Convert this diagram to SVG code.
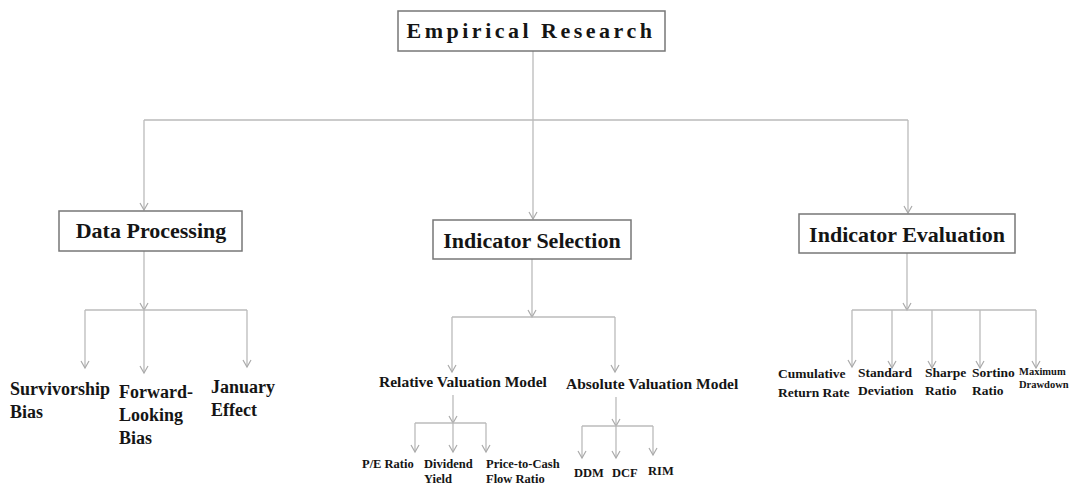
<svg xmlns="http://www.w3.org/2000/svg" width="1073" height="485" viewBox="0 0 1073 485">
<defs>
<marker id="ah" markerUnits="userSpaceOnUse" markerWidth="12" markerHeight="12" viewBox="-8 -6 12 12" refX="0" refY="0" orient="auto" overflow="visible">
<path d="M-7,-4 L0,0 L-7,4" fill="none" stroke="#aaa" stroke-width="1.2"/>
</marker>
</defs>
<style>
.box{fill:#fff;stroke:#777;stroke-width:1.5}
.c{fill:none;stroke:#bbb;stroke-width:1.3}
.a{marker-end:url(#ah)}
text{font-family:"Liberation Serif","Times New Roman",serif;font-weight:bold;fill:#151515}
.h{font-size:22px}
.l{font-size:18px}
.m{font-size:15.5px}
.s{font-size:12.5px}
.e{font-size:13.5px}
.t{font-size:10.5px}
</style>
<g id="connectors">
<path class="c" d="M533,51 V120 M144,120 H908"/>
<path class="c a" d="M144,120 V210"/>
<path class="c a" d="M533,120 V219"/>
<path class="c a" d="M908,120 V213"/>
<path class="c a" d="M144,251 V310"/>
<path class="c" d="M85,310 H247"/>
<path class="c a" d="M85,310 V368"/>
<path class="c a" d="M144,310 V373"/>
<path class="c a" d="M247,310 V367"/>
<path class="c a" d="M532,259 V317"/>
<path class="c" d="M452,317 H615"/>
<path class="c a" d="M452,317 V372"/>
<path class="c a" d="M615,317 V372"/>
<path class="c a" d="M453,395 V423"/>
<path class="c" d="M415,423 H486"/>
<path class="c a" d="M415,423 V452"/>
<path class="c a" d="M453,423 V452"/>
<path class="c a" d="M486,423 V452"/>
<path class="c a" d="M616,397 V426"/>
<path class="c" d="M582,426 H653"/>
<path class="c a" d="M582,426 V458"/>
<path class="c a" d="M616,426 V458"/>
<path class="c a" d="M653,426 V455"/>
<path class="c a" d="M907,253 V310"/>
<path class="c" d="M852,310 H1036"/>
<path class="c a" d="M852,310 V367"/>
<path class="c a" d="M892,310 V368"/>
<path class="c a" d="M932,310 V368"/>
<path class="c a" d="M980,310 V368"/>
<path class="c a" d="M1036,310 V368"/>
</g>
<g id="empirical-research">
<rect class="box" x="398" y="11" width="267" height="40"/>
<text class="h" x="531" y="38" text-anchor="middle" letter-spacing="3.5">Empirical Research</text>
</g>
<g id="data-processing">
<rect class="box" x="59" y="211" width="183" height="40"/>
<text class="h" x="151" y="238" text-anchor="middle">Data Processing</text>
</g>
<g id="indicator-selection">
<rect class="box" x="433" y="220" width="198" height="39"/>
<text class="h" x="532" y="248" text-anchor="middle">Indicator Selection</text>
</g>
<g id="indicator-evaluation">
<rect class="box" x="799" y="214" width="216" height="39" stroke-width="2"/>
<text class="h" x="907" y="242" text-anchor="middle">Indicator Evaluation</text>
</g>
<g id="survivorship-bias"><text class="l" x="10" y="395">Survivorship<tspan x="10" dy="23">Bias</tspan></text></g>
<g id="forward-looking-bias"><text class="l" x="119" y="398">Forward-<tspan x="119" dy="23">Looking</tspan><tspan x="119" dy="23">Bias</tspan></text></g>
<g id="january-effect"><text class="l" x="211" y="393">January<tspan x="211" dy="23">Effect</tspan></text></g>
<g id="relative-valuation-model"><text class="m" x="379" y="387">Relative Valuation Model</text></g>
<g id="absolute-valuation-model"><text class="m" x="566" y="389">Absolute Valuation Model</text></g>
<g id="pe-ratio"><text class="s" x="362" y="468">P/E Ratio</text></g>
<g id="dividend-yield"><text class="s" x="424" y="468">Dividend<tspan x="424" dy="15">Yield</tspan></text></g>
<g id="price-to-cash-flow-ratio"><text class="s" x="486" y="468">Price-to-Cash<tspan x="486" dy="15">Flow Ratio</tspan></text></g>
<g id="ddm"><text class="s" x="574" y="477">DDM</text></g>
<g id="dcf"><text class="s" x="612" y="477">DCF</text></g>
<g id="rim"><text class="s" x="648" y="475">RIM</text></g>
<g id="cumulative-return-rate"><text class="e" x="778" y="378">Cumulative<tspan x="778" dy="19">Return Rate</tspan></text></g>
<g id="standard-deviation"><text class="e" x="858" y="377">Standard<tspan x="858" dy="18">Deviation</tspan></text></g>
<g id="sharpe-ratio"><text class="e" x="925" y="377">Sharpe<tspan x="925" dy="18">Ratio</tspan></text></g>
<g id="sortino-ratio"><text class="e" x="972" y="377">Sortino<tspan x="972" dy="18">Ratio</tspan></text></g>
<g id="maximum-drawdown"><text class="t" x="1019" y="375">Maximum<tspan x="1019" dy="13">Drawdown</tspan></text></g>
</svg>
